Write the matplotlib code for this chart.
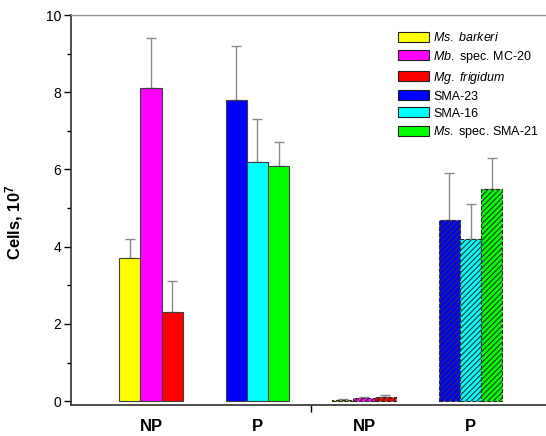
import numpy as np
import matplotlib
matplotlib.use("Agg")
import matplotlib.pyplot as plt

plt.rcParams['font.family'] = ['Liberation Sans', 'DejaVu Sans']
plt.rcParams['mathtext.fontset'] = 'custom'
plt.rcParams['mathtext.rm'] = 'Liberation Sans'
plt.rcParams['mathtext.it'] = 'Liberation Sans:italic'
plt.rcParams['mathtext.bf'] = 'Liberation Sans:bold'
plt.rcParams['hatch.linewidth'] = 0.8

# Data
groups = ['NP', 'P', 'NP', 'P']
species = [r'$\mathit{Ms.\ barkeri}$', r'$\mathit{Mb.\ }$spec. MC-20', r'$\mathit{Mg.\ frigidum}$',
           'SMA-23', 'SMA-16', r'$\mathit{Ms.\ }$spec. SMA-21']
colors = ['#ffff00', '#ff00ff', '#ff0000', '#0000ff', '#00ffff', '#00ff00']
# species index used in each group
group_species = [[0, 1, 2], [3, 4, 5], [0, 1, 2], [3, 4, 5]]
np_left_vals = [3.7, 8.1, 2.3]
np_left_err = [0.5, 1.3, 0.8]
p_left_vals = [7.8, 6.2, 6.1]
p_left_err = [1.4, 1.1, 0.6]
np_right_vals = [0.03, 0.09, 0.11]
np_right_err = [0.02, 0.02, 0.04]
p_right_vals = [4.7, 4.2, 5.5]
p_right_err = [1.2, 0.9, 0.8]
group_vals = [np_left_vals, p_left_vals, np_right_vals, p_right_vals]
group_err = [np_left_err, p_left_err, np_right_err, p_right_err]
hatched = [False, False, True, True]

fig = plt.figure(figsize=(5.46, 4.36), dpi=100)
ax = fig.add_axes([71 / 546, 31 / 436, 486 / 546, 390 / 436])

w = 0.2
offsets = [-w, 0, w]
handles = []
for g in range(4):
    for k in range(3):
        s = group_species[g][k]
        x = g + offsets[k]
        v = group_vals[g][k]
        e = group_err[g][k]
        ax.errorbar(x, v, yerr=[[0], [e]], color='#8a8a8a', lw=1.0,
                    capsize=3.5, capthick=1.0, zorder=1)
        if hatched[g]:
            ax.bar(x, v, w, color=colors[s], edgecolor='#303030', hatch='//////',
                   linewidth=0.8, linestyle='--', zorder=2)
        else:
            b = ax.bar(x, v, w, color=colors[s], edgecolor='#404040',
                       linewidth=0.8, zorder=2)
            handles.append((s, b))

handles.sort(key=lambda t: t[0])
leg = ax.legend([h for _, h in handles], [species[s] for s, _ in handles],
                loc='upper left', bbox_to_anchor=(0.66, 0.975), frameon=False,
                fontsize=9, borderpad=0, handlelength=2.5, handleheight=0.85,
                handletextpad=0.3, labelspacing=0.38)
for p in leg.get_patches():
    p.set_edgecolor('#202020')

ax.set_xlim(-0.751, 3.812)
ax.set_ylim(-0.1, 10)
ax.set_yticks(np.arange(0, 11, 2))
ax.set_yticks(np.arange(1, 10, 2), minor=True)
ax.tick_params(axis='y', which='major', direction='out', length=5, width=1.0,
               labelsize=10, pad=2)
ax.tick_params(axis='y', which='minor', direction='out', length=3, width=1.0)

ax.set_xticks([1.5])
ax.set_xticklabels([''])
ax.set_xticks(range(len(groups)), minor=True)
ax.set_xticklabels(groups, minor=True, fontsize=12, fontweight='bold')
ax.tick_params(axis='x', which='major', direction='out', length=5, width=1.0)
ax.tick_params(axis='x', which='minor', length=0, pad=10)

ax.set_ylabel(r'Cells, 10$^{\mathbf{7}}$', fontsize=12, fontweight='bold')
ax.yaxis.set_label_coords(-0.094, 0.47)

for side in ['left', 'bottom']:
    ax.spines[side].set_color('#303030')
    ax.spines[side].set_linewidth(1.2)
ax.spines['top'].set_color('#909090')
ax.spines['top'].set_linewidth(1.0)
ax.spines['right'].set_visible(False)

fig.savefig('out.png', dpi=100)
